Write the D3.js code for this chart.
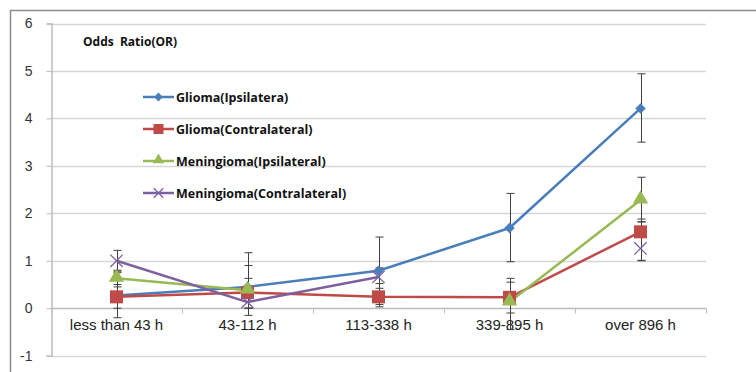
<!DOCTYPE html>
<html>
<head>
<meta charset="utf-8">
<script src="https://cdn.jsdelivr.net/npm/d3@7"></script>
<style>
  body { margin: 0; background: #fff; }
  svg { display: block; }
</style>
</head>
<body>
<svg id="chart" width="756" height="372"></svg>
<script>
// categories and values
let categories = ["less than 43 h", "43-112 h", "113-338 h", "339-895 h", "over 896 h"];
let yTicks = [-1, 0, 1, 2, 3, 4, 5, 6];

let gliomaIpsi = [0.27, 0.45, 0.79, 1.69, 4.21];
let gliomaIpsiLow = [-0.2, 0.0, 0.08, 0.98, 3.5];
let gliomaIpsiHigh = [0.75, 1.17, 1.5, 2.42, 4.94];

let gliomaContra = [0.24, 0.33, 0.24, 0.23, 1.61];
let gliomaContraLow = [0.0, 0.0, 0.03, -0.1, 1.01];
let gliomaContraHigh = [0.5, 0.63, 0.52, 0.63, 1.88];

let meningIpsi = [0.63, 0.38, null, 0.13, 2.28];
let meningIpsiLow = [0.45, -0.15, null, -0.45, 1.82];
let meningIpsiHigh = [0.8, 0.9, null, 0.55, 2.76];

let meningContra = [1.0, 0.13, 0.66, null, 1.26];
let meningContraLow = [0.78, 0.0, 0.42, null, 1.0];
let meningContraHigh = [1.22, 0.3, 0.85, null, 1.82];

let seriesNames = ["Glioma(Ipsilatera)", "Glioma(Contralateral)", "Meningioma(Ipsilateral)", "Meningioma(Contralateral)"];

let series = [
  { name: seriesNames[0], values: gliomaIpsi, low: gliomaIpsiLow, high: gliomaIpsiHigh, color: "#4a7ebb", marker: "diamond" },
  { name: seriesNames[1], values: gliomaContra, low: gliomaContraLow, high: gliomaContraHigh, color: "#be4b48", marker: "square" },
  { name: seriesNames[2], values: meningIpsi, low: meningIpsiLow, high: meningIpsiHigh, color: "#98b954", marker: "triangle" },
  { name: seriesNames[3], values: meningContra, low: meningContraLow, high: meningContraHigh, color: "#7d60a0", marker: "x" }
];
// purple has no line segment to the last point in the original
let lineBreaks = { 3: [4] };

let svg = d3.select("#chart");

// outer frame
svg.append("rect")
  .attr("x", 10.5).attr("y", 10.5)
  .attr("width", 800).attr("height", 400)
  .attr("fill", "none")
  .attr("stroke", "#8c8c8c")
  .attr("stroke-width", 1.5);

let xScale = d3.scaleBand()
  .domain(categories)
  .range([51, 706])
  .padding(0);
let yScale = d3.scaleLinear()
  .domain([-1, 6])
  .range([355.7, 23.5]);

let xMid = d => xScale(d) + xScale.bandwidth() / 2;

// gridlines
svg.append("g")
  .selectAll("line")
  .data(yTicks)
  .enter().append("line")
  .attr("x1", 51).attr("x2", 706)
  .attr("y1", d => Math.round(yScale(d)) + 0.5)
  .attr("y2", d => Math.round(yScale(d)) + 0.5)
  .attr("stroke", d => d === 0 ? "#bdbdbd" : "#d6d6d6")
  .attr("stroke-width", 1.5);

// y axis
let yAxis = d3.axisLeft(yScale).tickValues(yTicks).tickSize(5).tickPadding(14)
  .tickFormat(d => String(d));
let gy = svg.append("g")
  .attr("transform", "translate(51.5,0)")
  .call(yAxis);
gy.select(".domain").attr("stroke", "#bdbdbd").attr("stroke-width", 1.5);
gy.selectAll(".tick line").attr("stroke", "#bdbdbd");
gy.selectAll(".tick text")
  .attr("fill", "#333")
  .style("font-family", "Liberation Sans, Arial, sans-serif")
  .style("font-size", "14px");

// x axis on the zero line, ticks between categories
let xAxis = d3.axisBottom(xScale).tickSize(0).tickPadding(11);
let gx = svg.append("g")
  .attr("transform", "translate(0," + (Math.round(yScale(0)) + 0.5) + ")")
  .call(xAxis);
gx.select(".domain").remove();
gx.selectAll(".tick text")
  .attr("fill", "#222")
  .style("font-family", "Liberation Sans, Arial, sans-serif")
  .style("font-size", "15px");
gx.selectAll(".bound")
  .data(d3.range(categories.length + 1))
  .enter().append("line")
  .attr("x1", i => Math.round(51 + i * xScale.bandwidth()) + 0.5)
  .attr("x2", i => Math.round(51 + i * xScale.bandwidth()) + 0.5)
  .attr("y1", 0).attr("y2", 5)
  .attr("stroke", "#bdbdbd");

// lines
let plot = svg.append("g");
series.forEach(function (s, si) {
  let pts = s.values.map((v, i) => ({ cat: categories[i], v: v, i: i }));
  let breaks = lineBreaks[si] || [];
  let line = d3.line()
    .defined((d, i) => d.v !== null && breaks.indexOf(d.i) < 0)
    .x(d => xMid(d.cat))
    .y(d => yScale(d.v));
  plot.append("path")
    .datum(pts)
    .attr("d", line)
    .attr("fill", "none")
    .attr("stroke", s.color)
    .attr("stroke-width", 2.5)
    .attr("stroke-linejoin", "round");
});

// error bars
series.forEach(function (s) {
  s.values.forEach(function (v, i) {
    if (v === null) return;
    let x = Math.round(xMid(categories[i])) + 0.5;
    let g = plot.append("g").attr("stroke", "#404040").attr("stroke-width", 1);
    g.append("line").attr("x1", x).attr("x2", x)
      .attr("y1", yScale(s.low[i])).attr("y2", yScale(s.high[i]));
    [s.low[i], s.high[i]].forEach(function (e) {
      g.append("line").attr("x1", x - 4).attr("x2", x + 4)
        .attr("y1", yScale(e)).attr("y2", yScale(e));
    });
  });
});

// markers
function drawMarker(g, type, color, x, y, size) {
  if (type === "diamond") {
    g.append("path")
      .attr("d", d3.symbol().type(d3.symbolDiamond2).size(size * 7)())
      .attr("transform", "translate(" + x + "," + y + ")")
      .attr("fill", color);
  } else if (type === "square") {
    g.append("rect")
      .attr("x", x - size / 2).attr("y", y - size / 2)
      .attr("width", size).attr("height", size)
      .attr("fill", color);
  } else if (type === "triangle") {
    g.append("path")
      .attr("d", d3.symbol().type(d3.symbolTriangle).size(size * size * 0.45)())
      .attr("transform", "translate(" + x + "," + (y - 1) + ")")
      .attr("fill", color);
  } else {
    g.append("path")
      .attr("d", d3.symbol().type(d3.symbolTimes).size(size * size * 0.6)())
      .attr("transform", "translate(" + x + "," + y + ")")
      .attr("fill", "none")
      .attr("stroke", color)
      .attr("stroke-width", 1.3);
  }
}

series.forEach(function (s) {
  let sizes = { diamond: 10, square: 13, triangle: 15, x: 13 };
  s.values.forEach(function (v, i) {
    if (v === null) return;
    drawMarker(plot, s.marker, s.color, xMid(categories[i]), yScale(v), sizes[s.marker]);
  });
});

// chart title inside plot
svg.append("text")
  .attr("x", 83).attr("y", 46)
  .attr("fill", "#111")
  .style("font-family", "'Open Sans', sans-serif")
  .style("font-weight", "bold")
  .style("font-size", "12px")
  .attr("xml:space", "preserve")
  .text("Odds  Ratio(OR)");

// legend
let legendY = d3.scaleBand().domain(seriesNames).range([81, 209]);
let legend = svg.append("g");
series.forEach(function (s) {
  let y = legendY(s.name) + legendY.bandwidth() / 2;
  legend.append("line")
    .attr("x1", 143).attr("x2", 174)
    .attr("y1", y).attr("y2", y)
    .attr("stroke", s.color).attr("stroke-width", 2.5);
  let lsize = { diamond: 7, square: 10, triangle: 11, x: 10 };
  drawMarker(legend, s.marker, s.color, 158.5, y, lsize[s.marker]);
  legend.append("text")
    .attr("x", 176).attr("y", y + 4.5)
    .attr("fill", "#111")
    .style("font-family", "'Open Sans', sans-serif")
    .style("font-weight", "bold")
    .style("font-size", "12.5px")
    .text(s.name);
});
</script>
</body>
</html>
